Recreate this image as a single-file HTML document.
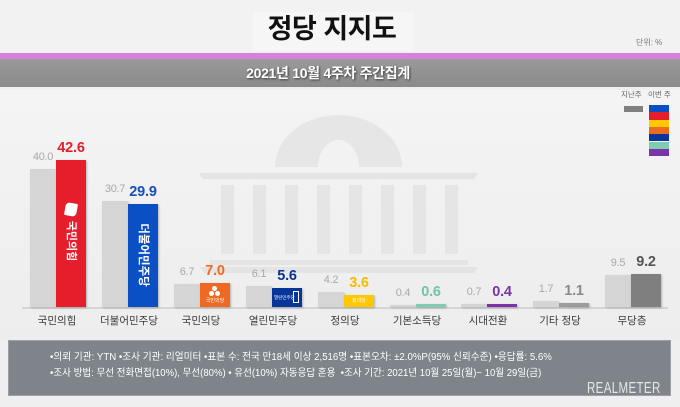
<!DOCTYPE html>
<html><head><meta charset="utf-8">
<style>
*{margin:0;padding:0;box-sizing:border-box}
body{width:680px;height:407px;overflow:hidden;background:#efefef;font-family:"Liberation Sans","Noto Sans CJK KR",sans-serif;position:relative}
.a{position:absolute}
.g{position:absolute;background:#d5d5d5;box-shadow:1px 1px 2px rgba(0,0,0,.18)}
.c{position:absolute;box-shadow:1px 1px 2px rgba(0,0,0,.25)}
.gv{position:absolute;width:40px;height:17px;line-height:17px;text-align:center;font-size:11px;color:#a8a8a8;letter-spacing:-0.3px}
.cv{position:absolute;width:50px;height:17px;line-height:17px;text-align:center;font-size:14.5px;font-weight:bold;letter-spacing:-0.2px}
.lb{position:absolute;width:80px;text-align:center;top:314px;font-size:10.5px;color:#3a3a3a;line-height:14px}
.col{position:absolute;top:185px;width:13px;height:69px;background:#e5e5e5}
.ft{position:absolute;left:50px;font-size:10px;color:#fff;white-space:nowrap;transform-origin:0 50%;line-height:12px}
</style></head><body>
<div class="a" style="left:0;top:0;width:680px;height:52px;background:#f2f2f2"></div>
<div class="a" style="left:253px;top:12px;width:160px;height:39px;background:#f6f6f6"></div>
<div class="a" style="left:0;top:90px;width:680px;height:250px;background:linear-gradient(#f4f4f4,#ededed)"></div>

<!-- watermark building -->
<svg class="a" style="left:0;top:0" width="680" height="407">
<path d="M275,167 A63.5,52 0 0 1 402,167 L359,167 A20.5,27 0 0 0 318,167 Z" fill="#e6e6e6"/>
<path d="M199,173 L478,173 L474,179 L203,179 Z" fill="#e4e4e4"/>
<path d="M210,260 L468,260 L468,265 L210,265 Z" fill="#e4e4e4"/>
<path d="M200,267 L478,267 L474,273 L204,273 Z" fill="#e4e4e4"/>
</svg>
<div class="col" style="left:221px"></div><div class="col" style="left:253px"></div><div class="col" style="left:285px"></div><div class="col" style="left:317px"></div>
<div class="col" style="left:349px"></div><div class="col" style="left:381px"></div><div class="col" style="left:413px"></div><div class="col" style="left:445px"></div>

<!-- header -->
<div class="a" style="left:0;top:12px;width:664px;text-align:center;font-size:27px;font-weight:bold;color:#111;line-height:34px;letter-spacing:-0.5px">정당 지지도</div>
<div class="a" style="left:636px;top:38px;font-size:8px;color:#777;line-height:10px">단위: %</div>
<div class="a" style="left:0;top:53px;width:680px;height:6px;background:#d184d8"></div>
<div class="a" style="left:0;top:59px;width:680px;height:28px;background:linear-gradient(#9a9a9a,#8a8a8a)"></div>
<div class="a" style="left:0;top:64px;width:656px;text-align:center;font-size:14px;font-weight:bold;color:#fff;line-height:18px;letter-spacing:-0.3px;text-shadow:1px 1px 2px rgba(0,0,0,.6)">2021년 10월 4주차 주간집계</div>

<!-- legend -->
<div class="a" style="left:621px;top:90px;font-size:7.5px;color:#666;line-height:10px">지난주</div>
<div class="a" style="left:648px;top:90px;font-size:7.5px;color:#666;line-height:10px">이번 주</div>
<div class="a" style="left:624px;top:106px;width:19px;height:6px;background:#808080"></div>
<div class="a" style="left:649px;top:105px;width:20px;height:7.3px;background:#0a4fc4"></div>
<div class="a" style="left:649px;top:112.3px;width:20px;height:7.3px;background:#e61e2b"></div>
<div class="a" style="left:649px;top:119.6px;width:20px;height:7.3px;background:#ffc800"></div>
<div class="a" style="left:649px;top:126.9px;width:20px;height:7.3px;background:#ee6a1c"></div>
<div class="a" style="left:649px;top:134.2px;width:20px;height:7.3px;background:#07359a"></div>
<div class="a" style="left:649px;top:141.5px;width:20px;height:7.3px;background:#7fcdb0"></div>
<div class="a" style="left:649px;top:148.8px;width:20px;height:7.3px;background:#7a33a8"></div>

<!-- axis -->
<div class="a" style="left:22px;top:307px;width:646px;height:2px;background:#d6d6d6"></div>

<!-- group 1 c=57 -->
<div class="g" style="left:30px;top:169px;width:26px;height:138px"></div>
<div class="c" style="left:56px;top:160px;width:30px;height:147px;background:#e61e2b"></div>
<div class="gv" style="left:23px;top:149px">40.0</div>
<div class="cv" style="left:46px;top:140px;color:#e61e2b">42.6</div>
<div class="a" style="left:65px;top:203px;width:12px;height:13px;background:#fff;border-radius:4px 1px 4px 1px;transform:rotate(10deg)"></div>
<div class="a" style="left:41px;top:234px;width:60px;height:14px;line-height:14px;text-align:center;font-size:11px;font-weight:bold;color:#fff;transform:rotate(90deg)">국민의힘</div>
<div class="lb" style="left:17px">국민의힘</div>

<!-- group 2 c=129 -->
<div class="g" style="left:102px;top:201px;width:26px;height:106px"></div>
<div class="c" style="left:128px;top:204px;width:30px;height:103px;background:#0a4fc4"></div>
<div class="gv" style="left:95px;top:181px">30.7</div>
<div class="cv" style="left:118px;top:184px;color:#1a4fb8">29.9</div>
<div class="a" style="left:103px;top:248px;width:80px;height:14px;line-height:14px;text-align:center;font-size:11.5px;font-weight:bold;color:#fff;transform:rotate(90deg)">더불어민주당</div>
<div class="lb" style="left:89px">더불어민주당</div>

<!-- group 3 c=201 -->
<div class="g" style="left:174px;top:284px;width:26px;height:23px"></div>
<div class="c" style="left:200px;top:283px;width:30px;height:24px;background:#ee6a23"></div>
<div class="gv" style="left:167px;top:264px">6.7</div>
<div class="cv" style="left:190px;top:263px;color:#ee6a23">7.0</div>
<div class="a" style="left:212px;top:286px;width:5px;height:5px;border-radius:50%;background:#fff"></div>
<div class="a" style="left:209px;top:291px;width:5px;height:5px;border-radius:50%;background:#fff"></div>
<div class="a" style="left:215px;top:291px;width:5px;height:5px;border-radius:50%;background:#fff"></div>
<div class="a" style="left:200px;top:298px;width:30px;text-align:center;font-size:5px;color:#fff;line-height:6px">국민의당</div>
<div class="lb" style="left:161px">국민의당</div>

<!-- group 4 c=273 -->
<div class="g" style="left:246px;top:286px;width:26px;height:21px"></div>
<div class="c" style="left:272px;top:288px;width:30px;height:19px;background:#07359a"></div>
<div class="gv" style="left:239px;top:266px">6.1</div>
<div class="cv" style="left:262px;top:268px;color:#0a3590">5.6</div>
<div class="a" style="left:274px;top:295px;font-size:4.5px;color:#fff;line-height:5px">열린민주당</div>
<div class="a" style="left:293px;top:291px;width:6px;height:12px;border:1px solid #fff"></div>
<div class="lb" style="left:233px">열린민주당</div>

<!-- group 5 c=345 -->
<div class="g" style="left:318px;top:292px;width:26px;height:15px"></div>
<div class="c" style="left:344px;top:295px;width:30px;height:12px;background:#ffc800"></div>
<div class="gv" style="left:311px;top:272px">4.2</div>
<div class="cv" style="left:334px;top:275px;color:#f5bd00">3.6</div>
<div class="a" style="left:344px;top:298px;width:30px;text-align:center;font-size:5px;color:#fff;line-height:6px">정의당</div>
<div class="lb" style="left:305px">정의당</div>

<!-- group 6 c=417 -->
<div class="g" style="left:390px;top:305px;width:26px;height:2px"></div>
<div class="c" style="left:416px;top:304px;width:30px;height:3px;background:#7fcdb0"></div>
<div class="gv" style="left:383px;top:285px">0.4</div>
<div class="cv" style="left:406px;top:284px;color:#72c4a5">0.6</div>
<div class="lb" style="left:377px">기본소득당</div>

<!-- group 7 c=488 -->
<div class="g" style="left:461px;top:304px;width:26px;height:3px"></div>
<div class="c" style="left:487px;top:304px;width:30px;height:3px;background:#7a33a8"></div>
<div class="gv" style="left:454px;top:284px">0.7</div>
<div class="cv" style="left:477px;top:284px;color:#7a33a8">0.4</div>
<div class="lb" style="left:448px">시대전환</div>

<!-- group 8 c=560 -->
<div class="g" style="left:533px;top:301px;width:26px;height:6px"></div>
<div class="c" style="left:559px;top:303px;width:30px;height:4px;background:#9c9c9c"></div>
<div class="gv" style="left:526px;top:281px">1.7</div>
<div class="cv" style="left:549px;top:283px;color:#8a8a8a">1.1</div>
<div class="lb" style="left:520px">기타 정당</div>

<!-- group 9 c=632 -->
<div class="g" style="left:605px;top:275px;width:26px;height:32px"></div>
<div class="c" style="left:631px;top:274px;width:30px;height:33px;background:#7f7f7f"></div>
<div class="gv" style="left:598px;top:255px">9.5</div>
<div class="cv" style="left:621px;top:254px;color:#555">9.2</div>
<div class="lb" style="left:592px">무당층</div>

<!-- footer -->
<div class="a" style="left:8px;top:340px;width:663px;height:56px;background:#7e848a;border:1px solid #9aa0a5"></div>
<div class="ft" style="top:352px;transform:scaleX(0.965)">•의뢰 기관: YTN •조사 기관: 리얼미터 •표본 수: 전국 만18세 이상 2,516명 •표본오차: ±2.0%P(95% 신뢰수준) •응답률: 5.6%</div>
<div class="ft" style="top:368px;transform:scaleX(0.955)">•조사 방법: 무선 전화면접(10%), 무선(80%) • 유선(10%) 자동응답 혼용 &nbsp;•조사 기간: 2021년 10월 25일(월)~ 10월 29일(금)</div>
<div class="a" style="left:587px;top:380px;font-size:16px;color:#e6e6e6;line-height:18px;transform:scaleX(0.72);transform-origin:0 50%;letter-spacing:0.5px">REALMETER</div>
</body></html>
